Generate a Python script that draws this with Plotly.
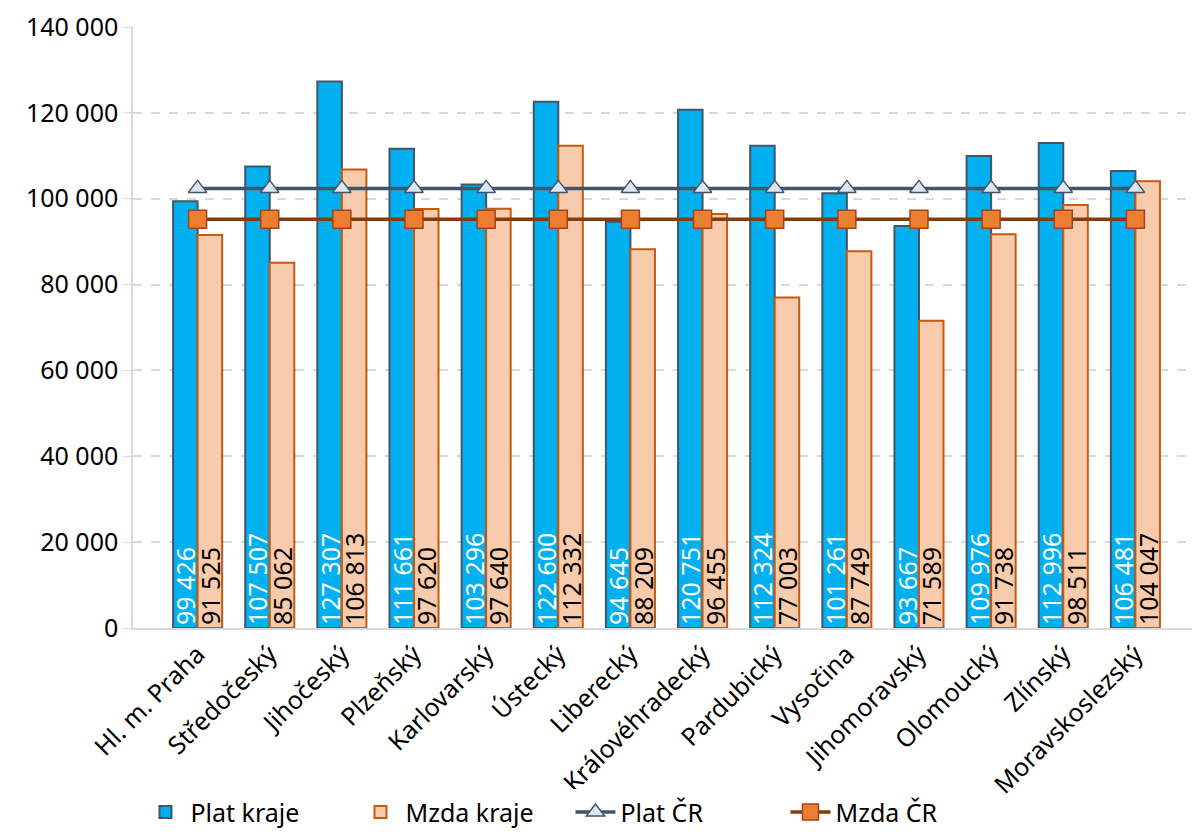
import plotly.graph_objects as go

regions = ["Hl. m. Praha", "Středočeský", "Jihočeský", "Plzeňský", "Karlovarský", "Ústecký",
           "Liberecký", "Královéhradecký", "Pardubický", "Vysočina", "Jihomoravský",
           "Olomoucký", "Zlínský", "Moravskoslezský"]
plat_kraje = [99426, 107507, 127307, 111661, 103296, 122600, 94645, 120751, 112324, 101261,
              93667, 109976, 112996, 106481]
mzda_kraje = [91525, 85062, 106813, 97620, 97640, 112332, 88209, 96455, 77003, 87749,
              71589, 91738, 98511, 104047]
plat_cr = [102400] * len(regions)
mzda_cr = [95200] * len(regions)
y_ticks = [0, 20000, 40000, 60000, 80000, 100000, 120000, 140000]
y_tick_labels = ["0", "20 000", "40 000", "60 000", "80 000", "100 000", "120 000", "140 000"]

def fmt(v):
    return f"{v:,}".replace(",", " ")

FONT = "Noto Sans, sans-serif"
FS = 25

fig = go.Figure()
fig.add_trace(go.Bar(
    x=regions, y=plat_kraje, name="Plat kraje",
    marker=dict(color="#00b0f0", line=dict(color="#44546a", width=2)),
    text=[fmt(v) for v in plat_kraje], textposition="inside", insidetextanchor="start",
    textangle=-90, textfont=dict(color="white", size=FS, family=FONT),
))
fig.add_trace(go.Bar(
    x=regions, y=mzda_kraje, name="Mzda kraje",
    marker=dict(color="#f8cbad", line=dict(color="#c55a11", width=2)),
    text=[fmt(v) for v in mzda_kraje], textposition="inside", insidetextanchor="start",
    textangle=-90, textfont=dict(color="black", size=FS, family=FONT),
))
fig.add_trace(go.Scatter(
    x=regions, y=plat_cr, name="Plat ČR", mode="lines+markers",
    line=dict(color="#44546a", width=3.5),
    marker=dict(symbol="triangle-up", size=16, color="#dce6f2", line=dict(color="#44546a", width=1.5)),
))
fig.add_trace(go.Scatter(
    x=regions, y=mzda_cr, name="Mzda ČR", mode="lines+markers",
    line=dict(color="#843c0c", width=3.5),
    marker=dict(symbol="square", size=18, color="#ed7d31", line=dict(color="#a0461a", width=1.5)),
))

fig.update_layout(
    width=1192, height=830,
    margin=dict(l=125, r=0, t=19, b=210),
    paper_bgcolor="white", plot_bgcolor="white",
    barmode="group", bargap=0.32, bargroupgap=0,
    font=dict(family=FONT, size=FS, color="black"),
    uniformtext=dict(minsize=FS, mode="show"),
    showlegend=True,
    legend=dict(orientation="h", x=0.41, xanchor="center", y=-0.345, yanchor="bottom",
                font=dict(size=FS), itemwidth=40, entrywidth=160, traceorder="normal"),
    xaxis=dict(tickangle=-45, showgrid=False, showline=True, linecolor="#d9d9d9", linewidth=1.5,
               ticks="", tickfont=dict(size=FS), automargin=False),
    yaxis=dict(range=[0, 140000], tickvals=y_ticks, ticktext=y_tick_labels,
               showgrid=True, gridcolor="#d9d9d9", griddash="dash", gridwidth=1.5,
               showline=True, linecolor="#d9d9d9", linewidth=1.5, ticks="outside",
               tickcolor="#d9d9d9", ticklen=8, tickfont=dict(size=FS), zeroline=False,
               automargin=False, ticklabeloverflow="allow"),
)

fig.write_html("out.html")
